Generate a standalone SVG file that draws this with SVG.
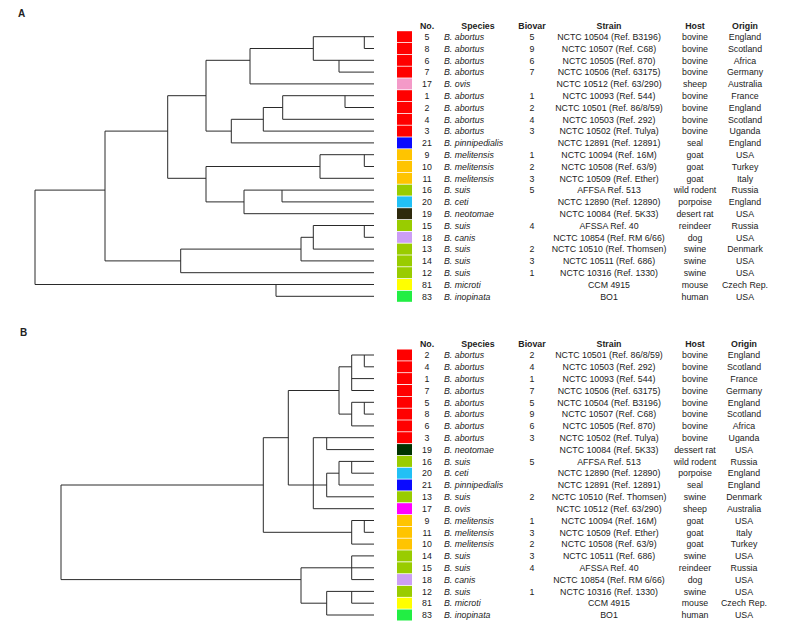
<svg xmlns="http://www.w3.org/2000/svg" width="785" height="631" viewBox="0 0 785 631">
<style>
text{font-family:"Liberation Sans",Arial,Helvetica,sans-serif;font-size:8.8px;fill:#222}
.c{text-anchor:middle}
.i{font-style:italic}
.h{font-weight:bold}
.lbl{font-weight:bold;font-size:10px}
.tree{stroke:#2a2a2a;stroke-width:1;fill:none}
.ab{fill:#ff0000}.ov{fill:#f49ac8}.ovb{fill:#ff00ff}.pi{fill:#0a0aff}.me{fill:#ffc400}.su{fill:#99cc00}.ce{fill:#22c0f5}.ne{fill:#2e2a0c}.neb{fill:#003300}.ca{fill:#cc9ef5}.mi{fill:#ffff00}.in{fill:#22ee44}
</style>
<defs>
<rect id="box" x="397" y="-5.5" width="15" height="11"/>
</defs>
<rect width="785" height="631" fill="#fff"/>
<text class="lbl" x="18" y="17">A</text>
<text class="lbl" x="20" y="336">B</text>

<g id="connectors">
<path id="treeA" class="tree" d="M313.3 36.7H374 M364.3 48.5H374 M250 48.5H313.3 M313.3 60.3H374 M206 60.3H250 M339 72.1H374 M250 83.9H374 M282.7 95.7H374 M167.7 95.7H206 M345 107.5H374 M263.3 107.5H282.7 M282.7 119.3H374 M231.3 119.3H263.3 M263.3 131.1H374 M105 131.1H167.7 M206 131.1H231.3 M231.3 142.9H374 M320 154.7H374 M364.3 166.5H374 M206 166.5H320 M320 178.3H374 M167.7 178.3H206 M244 190.1H374 M35 190.1H105 M282 201.9H374 M206 201.9H244 M244 213.7H374 M313.3 225.5H374 M364.3 237.3H374 M301 237.3H313.3 M313.3 249.1H374 M180.7 249.1H301 M301 260.9H374 M105 260.9H180.7 M180.7 272.7H374 M35 284.5H374 M276 296.3H374 M364.3 36.7V48.5 M313.3 36.7V60.3 M339 60.3V72.1 M250 48.5V83.9 M206 60.3V131.1 M345 95.7V107.5 M282.7 95.7V119.3 M263.3 107.5V131.1 M231.3 119.3V142.9 M167.7 95.7V178.3 M364.3 154.7V166.5 M320 154.7V178.3 M206 166.5V201.9 M282 190.1V201.9 M244 190.1V213.7 M105 131.1V260.9 M364.3 225.5V237.3 M313.3 225.5V249.1 M301 237.3V260.9 M180.7 249.1V272.7 M35 190.1V284.5 M276 284.5V296.3"/>
<path id="treeB" class="tree" d="M351.7 355H374 M364.3 366.8H374 M339 366.8H351.7 M351.7 378.6H374 M351.7 390.5H374 M288.3 390.5H339 M351.7 402.3H374 M364.3 414.1H374 M339 414.1H351.7 M351.7 425.9H374 M313.3 437.7H374 M263.3 437.7H288.3 M326.7 449.6H374 M339 461.4H374 M351.7 473.2H374 M326.7 473.2H339 M339 485H374 M61 485H263.3 M288.3 485H326.7 M326.7 496.8H374 M313.3 508.7H374 M351.7 520.5H374 M364.3 532.3H374 M263.3 532.3H351.7 M351.7 544.1H374 M351.7 555.9H374 M301 567.8H374 M351.7 579.6H374 M61 579.6H301 M326.7 591.4H374 M351.7 603.2H374 M301 603.2H326.7 M326.7 615H374 M364.3 355V366.8 M351.7 355V390.5 M339 366.8V414.1 M364.3 402.3V414.1 M351.7 402.3V425.9 M288.3 390.5V485 M263.3 437.7V532.3 M313.3 437.7V508.7 M326.7 437.7V449.6 M351.7 461.4V473.2 M339 461.4V485 M326.7 473.2V496.8 M364.3 520.5V532.3 M351.7 520.5V544.1 M61 485V579.6 M351.7 555.9V579.6 M301 567.8V603.2 M326.7 591.4V615 M351.7 591.4V603.2"/>
</g>

<g id="headerA" class="h">
<text class="h c" x="427" y="28.5">No.</text><text class="h c" x="478" y="28.5">Species</text><text class="h c" x="532" y="28.5">Biovar</text><text class="h c" x="609" y="28.5">Strain</text><text class="h c" x="695" y="28.5">Host</text><text class="h c" x="745" y="28.5">Origin</text>
</g>

<g id="A-5" transform="translate(0,36.7)"><use href="#box" class="ab"/><text class="c" x="427" y="3.2">5</text><text class="i" x="444" y="3.2">B. abortus</text><text class="c" x="532" y="3.2">5</text><text class="c" x="609" y="3.2">NCTC 10504 (Ref. B3196)</text><text class="c" x="695" y="3.2">bovine</text><text class="c" x="745" y="3.2">England</text></g>
<g id="A-8" transform="translate(0,48.5)"><use href="#box" class="ab"/><text class="c" x="427" y="3.2">8</text><text class="i" x="444" y="3.2">B. abortus</text><text class="c" x="532" y="3.2">9</text><text class="c" x="609" y="3.2">NCTC 10507 (Ref. C68)</text><text class="c" x="695" y="3.2">bovine</text><text class="c" x="745" y="3.2">Scotland</text></g>
<g id="A-6" transform="translate(0,60.3)"><use href="#box" class="ab"/><text class="c" x="427" y="3.2">6</text><text class="i" x="444" y="3.2">B. abortus</text><text class="c" x="532" y="3.2">6</text><text class="c" x="609" y="3.2">NCTC 10505 (Ref. 870)</text><text class="c" x="695" y="3.2">bovine</text><text class="c" x="745" y="3.2">Africa</text></g>
<g id="A-7" transform="translate(0,72.1)"><use href="#box" class="ab"/><text class="c" x="427" y="3.2">7</text><text class="i" x="444" y="3.2">B. abortus</text><text class="c" x="532" y="3.2">7</text><text class="c" x="609" y="3.2">NCTC 10506 (Ref. 63175)</text><text class="c" x="695" y="3.2">bovine</text><text class="c" x="745" y="3.2">Germany</text></g>
<g id="A-17" transform="translate(0,83.9)"><use href="#box" class="ov"/><text class="c" x="427" y="3.2">17</text><text class="i" x="444" y="3.2">B. ovis</text><text class="c" x="609" y="3.2">NCTC 10512 (Ref. 63/290)</text><text class="c" x="695" y="3.2">sheep</text><text class="c" x="745" y="3.2">Australia</text></g>
<g id="A-1" transform="translate(0,95.7)"><use href="#box" class="ab"/><text class="c" x="427" y="3.2">1</text><text class="i" x="444" y="3.2">B. abortus</text><text class="c" x="532" y="3.2">1</text><text class="c" x="609" y="3.2">NCTC 10093 (Ref. 544)</text><text class="c" x="695" y="3.2">bovine</text><text class="c" x="745" y="3.2">France</text></g>
<g id="A-2" transform="translate(0,107.5)"><use href="#box" class="ab"/><text class="c" x="427" y="3.2">2</text><text class="i" x="444" y="3.2">B. abortus</text><text class="c" x="532" y="3.2">2</text><text class="c" x="609" y="3.2">NCTC 10501 (Ref. 86/8/59)</text><text class="c" x="695" y="3.2">bovine</text><text class="c" x="745" y="3.2">England</text></g>
<g id="A-4" transform="translate(0,119.3)"><use href="#box" class="ab"/><text class="c" x="427" y="3.2">4</text><text class="i" x="444" y="3.2">B. abortus</text><text class="c" x="532" y="3.2">4</text><text class="c" x="609" y="3.2">NCTC 10503 (Ref. 292)</text><text class="c" x="695" y="3.2">bovine</text><text class="c" x="745" y="3.2">Scotland</text></g>
<g id="A-3" transform="translate(0,131.1)"><use href="#box" class="ab"/><text class="c" x="427" y="3.2">3</text><text class="i" x="444" y="3.2">B. abortus</text><text class="c" x="532" y="3.2">3</text><text class="c" x="609" y="3.2">NCTC 10502 (Ref. Tulya)</text><text class="c" x="695" y="3.2">bovine</text><text class="c" x="745" y="3.2">Uganda</text></g>
<g id="A-21" transform="translate(0,142.9)"><use href="#box" class="pi"/><text class="c" x="427" y="3.2">21</text><text class="i" x="444" y="3.2">B. pinnipedialis</text><text class="c" x="609" y="3.2">NCTC 12891 (Ref. 12891)</text><text class="c" x="695" y="3.2">seal</text><text class="c" x="745" y="3.2">England</text></g>
<g id="A-9" transform="translate(0,154.7)"><use href="#box" class="me"/><text class="c" x="427" y="3.2">9</text><text class="i" x="444" y="3.2">B. melitensis</text><text class="c" x="532" y="3.2">1</text><text class="c" x="609" y="3.2">NCTC 10094 (Ref. 16M)</text><text class="c" x="695" y="3.2">goat</text><text class="c" x="745" y="3.2">USA</text></g>
<g id="A-10" transform="translate(0,166.5)"><use href="#box" class="me"/><text class="c" x="427" y="3.2">10</text><text class="i" x="444" y="3.2">B. melitensis</text><text class="c" x="532" y="3.2">2</text><text class="c" x="609" y="3.2">NCTC 10508 (Ref. 63/9)</text><text class="c" x="695" y="3.2">goat</text><text class="c" x="745" y="3.2">Turkey</text></g>
<g id="A-11" transform="translate(0,178.3)"><use href="#box" class="me"/><text class="c" x="427" y="3.2">11</text><text class="i" x="444" y="3.2">B. melitensis</text><text class="c" x="532" y="3.2">3</text><text class="c" x="609" y="3.2">NCTC 10509 (Ref. Ether)</text><text class="c" x="695" y="3.2">goat</text><text class="c" x="745" y="3.2">Italy</text></g>
<g id="A-16" transform="translate(0,190.1)"><use href="#box" class="su"/><text class="c" x="427" y="3.2">16</text><text class="i" x="444" y="3.2">B. suis</text><text class="c" x="532" y="3.2">5</text><text class="c" x="609" y="3.2">AFFSA Ref. 513</text><text class="c" x="695" y="3.2">wild rodent</text><text class="c" x="745" y="3.2">Russia</text></g>
<g id="A-20" transform="translate(0,201.9)"><use href="#box" class="ce"/><text class="c" x="427" y="3.2">20</text><text class="i" x="444" y="3.2">B. ceti</text><text class="c" x="609" y="3.2">NCTC 12890 (Ref. 12890)</text><text class="c" x="695" y="3.2">porpoise</text><text class="c" x="745" y="3.2">England</text></g>
<g id="A-19" transform="translate(0,213.7)"><use href="#box" class="ne"/><text class="c" x="427" y="3.2">19</text><text class="i" x="444" y="3.2">B. neotomae</text><text class="c" x="609" y="3.2">NCTC 10084 (Ref. 5K33)</text><text class="c" x="695" y="3.2">desert rat</text><text class="c" x="745" y="3.2">USA</text></g>
<g id="A-15" transform="translate(0,225.5)"><use href="#box" class="su"/><text class="c" x="427" y="3.2">15</text><text class="i" x="444" y="3.2">B. suis</text><text class="c" x="532" y="3.2">4</text><text class="c" x="609" y="3.2">AFSSA Ref. 40</text><text class="c" x="695" y="3.2">reindeer</text><text class="c" x="745" y="3.2">Russia</text></g>
<g id="A-18" transform="translate(0,237.3)"><use href="#box" class="ca"/><text class="c" x="427" y="3.2">18</text><text class="i" x="444" y="3.2">B. canis</text><text class="c" x="609" y="3.2">NCTC 10854 (Ref. RM 6/66)</text><text class="c" x="695" y="3.2">dog</text><text class="c" x="745" y="3.2">USA</text></g>
<g id="A-13" transform="translate(0,249.1)"><use href="#box" class="su"/><text class="c" x="427" y="3.2">13</text><text class="i" x="444" y="3.2">B. suis</text><text class="c" x="532" y="3.2">2</text><text class="c" x="609" y="3.2">NCTC 10510 (Ref. Thomsen)</text><text class="c" x="695" y="3.2">swine</text><text class="c" x="745" y="3.2">Denmark</text></g>
<g id="A-14" transform="translate(0,260.9)"><use href="#box" class="su"/><text class="c" x="427" y="3.2">14</text><text class="i" x="444" y="3.2">B. suis</text><text class="c" x="532" y="3.2">3</text><text class="c" x="609" y="3.2">NCTC 10511 (Ref. 686)</text><text class="c" x="695" y="3.2">swine</text><text class="c" x="745" y="3.2">USA</text></g>
<g id="A-12" transform="translate(0,272.7)"><use href="#box" class="su"/><text class="c" x="427" y="3.2">12</text><text class="i" x="444" y="3.2">B. suis</text><text class="c" x="532" y="3.2">1</text><text class="c" x="609" y="3.2">NCTC 10316 (Ref. 1330)</text><text class="c" x="695" y="3.2">swine</text><text class="c" x="745" y="3.2">USA</text></g>
<g id="A-81" transform="translate(0,284.5)"><use href="#box" class="mi"/><text class="c" x="427" y="3.2">81</text><text class="i" x="444" y="3.2">B. microti</text><text class="c" x="609" y="3.2">CCM 4915</text><text class="c" x="695" y="3.2">mouse</text><text class="c" x="745" y="3.2">Czech Rep.</text></g>
<g id="A-83" transform="translate(0,296.3)"><use href="#box" class="in"/><text class="c" x="427" y="3.2">83</text><text class="i" x="444" y="3.2">B. inopinata</text><text class="c" x="609" y="3.2">BO1</text><text class="c" x="695" y="3.2">human</text><text class="c" x="745" y="3.2">USA</text></g>

<g id="headerB">
<text class="h c" x="427" y="347">No.</text><text class="h c" x="478" y="347">Species</text><text class="h c" x="532" y="347">Biovar</text><text class="h c" x="609" y="347">Strain</text><text class="h c" x="695" y="347">Host</text><text class="h c" x="744" y="347">Origin</text>
</g>

<g id="B-2" transform="translate(0,355)"><use href="#box" class="ab"/><text class="c" x="427" y="3.2">2</text><text class="i" x="444" y="3.2">B. abortus</text><text class="c" x="532" y="3.2">2</text><text class="c" x="609" y="3.2">NCTC 10501 (Ref. 86/8/59)</text><text class="c" x="695" y="3.2">bovine</text><text class="c" x="744" y="3.2">England</text></g>
<g id="B-4" transform="translate(0,366.8)"><use href="#box" class="ab"/><text class="c" x="427" y="3.2">4</text><text class="i" x="444" y="3.2">B. abortus</text><text class="c" x="532" y="3.2">4</text><text class="c" x="609" y="3.2">NCTC 10503 (Ref. 292)</text><text class="c" x="695" y="3.2">bovine</text><text class="c" x="744" y="3.2">Scotland</text></g>
<g id="B-1" transform="translate(0,378.6)"><use href="#box" class="ab"/><text class="c" x="427" y="3.2">1</text><text class="i" x="444" y="3.2">B. abortus</text><text class="c" x="532" y="3.2">1</text><text class="c" x="609" y="3.2">NCTC 10093 (Ref. 544)</text><text class="c" x="695" y="3.2">bovine</text><text class="c" x="744" y="3.2">France</text></g>
<g id="B-7" transform="translate(0,390.5)"><use href="#box" class="ab"/><text class="c" x="427" y="3.2">7</text><text class="i" x="444" y="3.2">B. abortus</text><text class="c" x="532" y="3.2">7</text><text class="c" x="609" y="3.2">NCTC 10506 (Ref. 63175)</text><text class="c" x="695" y="3.2">bovine</text><text class="c" x="744" y="3.2">Germany</text></g>
<g id="B-5" transform="translate(0,402.3)"><use href="#box" class="ab"/><text class="c" x="427" y="3.2">5</text><text class="i" x="444" y="3.2">B. abortus</text><text class="c" x="532" y="3.2">5</text><text class="c" x="609" y="3.2">NCTC 10504 (Ref. B3196)</text><text class="c" x="695" y="3.2">bovine</text><text class="c" x="744" y="3.2">England</text></g>
<g id="B-8" transform="translate(0,414.1)"><use href="#box" class="ab"/><text class="c" x="427" y="3.2">8</text><text class="i" x="444" y="3.2">B. abortus</text><text class="c" x="532" y="3.2">9</text><text class="c" x="609" y="3.2">NCTC 10507 (Ref. C68)</text><text class="c" x="695" y="3.2">bovine</text><text class="c" x="744" y="3.2">Scotland</text></g>
<g id="B-6" transform="translate(0,425.9)"><use href="#box" class="ab"/><text class="c" x="427" y="3.2">6</text><text class="i" x="444" y="3.2">B. abortus</text><text class="c" x="532" y="3.2">6</text><text class="c" x="609" y="3.2">NCTC 10505 (Ref. 870)</text><text class="c" x="695" y="3.2">bovine</text><text class="c" x="744" y="3.2">Africa</text></g>
<g id="B-3" transform="translate(0,437.7)"><use href="#box" class="ab"/><text class="c" x="427" y="3.2">3</text><text class="i" x="444" y="3.2">B. abortus</text><text class="c" x="532" y="3.2">3</text><text class="c" x="609" y="3.2">NCTC 10502 (Ref. Tulya)</text><text class="c" x="695" y="3.2">bovine</text><text class="c" x="744" y="3.2">Uganda</text></g>
<g id="B-19" transform="translate(0,449.6)"><use href="#box" class="neb"/><text class="c" x="427" y="3.2">19</text><text class="i" x="444" y="3.2">B. neotomae</text><text class="c" x="609" y="3.2">NCTC 10084 (Ref. 5K33)</text><text class="c" x="695" y="3.2">dessert rat</text><text class="c" x="744" y="3.2">USA</text></g>
<g id="B-16" transform="translate(0,461.4)"><use href="#box" class="su"/><text class="c" x="427" y="3.2">16</text><text class="i" x="444" y="3.2">B. suis</text><text class="c" x="532" y="3.2">5</text><text class="c" x="609" y="3.2">AFFSA Ref. 513</text><text class="c" x="695" y="3.2">wild rodent</text><text class="c" x="744" y="3.2">Russia</text></g>
<g id="B-20" transform="translate(0,473.2)"><use href="#box" class="ce"/><text class="c" x="427" y="3.2">20</text><text class="i" x="444" y="3.2">B. ceti</text><text class="c" x="609" y="3.2">NCTC 12890 (Ref. 12890)</text><text class="c" x="695" y="3.2">porpoise</text><text class="c" x="744" y="3.2">England</text></g>
<g id="B-21" transform="translate(0,485)"><use href="#box" class="pi"/><text class="c" x="427" y="3.2">21</text><text class="i" x="444" y="3.2">B. pinnipedialis</text><text class="c" x="609" y="3.2">NCTC 12891 (Ref. 12891)</text><text class="c" x="695" y="3.2">seal</text><text class="c" x="744" y="3.2">England</text></g>
<g id="B-13" transform="translate(0,496.8)"><use href="#box" class="su"/><text class="c" x="427" y="3.2">13</text><text class="i" x="444" y="3.2">B. suis</text><text class="c" x="532" y="3.2">2</text><text class="c" x="609" y="3.2">NCTC 10510 (Ref. Thomsen)</text><text class="c" x="695" y="3.2">swine</text><text class="c" x="744" y="3.2">Denmark</text></g>
<g id="B-17" transform="translate(0,508.7)"><use href="#box" class="ovb"/><text class="c" x="427" y="3.2">17</text><text class="i" x="444" y="3.2">B. ovis</text><text class="c" x="609" y="3.2">NCTC 10512 (Ref. 63/290)</text><text class="c" x="695" y="3.2">sheep</text><text class="c" x="744" y="3.2">Australia</text></g>
<g id="B-9" transform="translate(0,520.5)"><use href="#box" class="me"/><text class="c" x="427" y="3.2">9</text><text class="i" x="444" y="3.2">B. melitensis</text><text class="c" x="532" y="3.2">1</text><text class="c" x="609" y="3.2">NCTC 10094 (Ref. 16M)</text><text class="c" x="695" y="3.2">goat</text><text class="c" x="744" y="3.2">USA</text></g>
<g id="B-11" transform="translate(0,532.3)"><use href="#box" class="me"/><text class="c" x="427" y="3.2">11</text><text class="i" x="444" y="3.2">B. melitensis</text><text class="c" x="532" y="3.2">3</text><text class="c" x="609" y="3.2">NCTC 10509 (Ref. Ether)</text><text class="c" x="695" y="3.2">goat</text><text class="c" x="744" y="3.2">Italy</text></g>
<g id="B-10" transform="translate(0,544.1)"><use href="#box" class="me"/><text class="c" x="427" y="3.2">10</text><text class="i" x="444" y="3.2">B. melitensis</text><text class="c" x="532" y="3.2">2</text><text class="c" x="609" y="3.2">NCTC 10508 (Ref. 63/9)</text><text class="c" x="695" y="3.2">goat</text><text class="c" x="744" y="3.2">Turkey</text></g>
<g id="B-14" transform="translate(0,555.9)"><use href="#box" class="su"/><text class="c" x="427" y="3.2">14</text><text class="i" x="444" y="3.2">B. suis</text><text class="c" x="532" y="3.2">3</text><text class="c" x="609" y="3.2">NCTC 10511 (Ref. 686)</text><text class="c" x="695" y="3.2">swine</text><text class="c" x="744" y="3.2">USA</text></g>
<g id="B-15" transform="translate(0,567.8)"><use href="#box" class="su"/><text class="c" x="427" y="3.2">15</text><text class="i" x="444" y="3.2">B. suis</text><text class="c" x="532" y="3.2">4</text><text class="c" x="609" y="3.2">AFSSA Ref. 40</text><text class="c" x="695" y="3.2">reindeer</text><text class="c" x="744" y="3.2">Russia</text></g>
<g id="B-18" transform="translate(0,579.6)"><use href="#box" class="ca"/><text class="c" x="427" y="3.2">18</text><text class="i" x="444" y="3.2">B. canis</text><text class="c" x="609" y="3.2">NCTC 10854 (Ref. RM 6/66)</text><text class="c" x="695" y="3.2">dog</text><text class="c" x="744" y="3.2">USA</text></g>
<g id="B-12" transform="translate(0,591.4)"><use href="#box" class="su"/><text class="c" x="427" y="3.2">12</text><text class="i" x="444" y="3.2">B. suis</text><text class="c" x="532" y="3.2">1</text><text class="c" x="609" y="3.2">NCTC 10316 (Ref. 1330)</text><text class="c" x="695" y="3.2">swine</text><text class="c" x="744" y="3.2">USA</text></g>
<g id="B-81" transform="translate(0,603.2)"><use href="#box" class="mi"/><text class="c" x="427" y="3.2">81</text><text class="i" x="444" y="3.2">B. microti</text><text class="c" x="609" y="3.2">CCM 4915</text><text class="c" x="695" y="3.2">mouse</text><text class="c" x="744" y="3.2">Czech Rep.</text></g>
<g id="B-83" transform="translate(0,615)"><use href="#box" class="in"/><text class="c" x="427" y="3.2">83</text><text class="i" x="444" y="3.2">B. inopinata</text><text class="c" x="609" y="3.2">BO1</text><text class="c" x="695" y="3.2">human</text><text class="c" x="744" y="3.2">USA</text></g>
</svg>
